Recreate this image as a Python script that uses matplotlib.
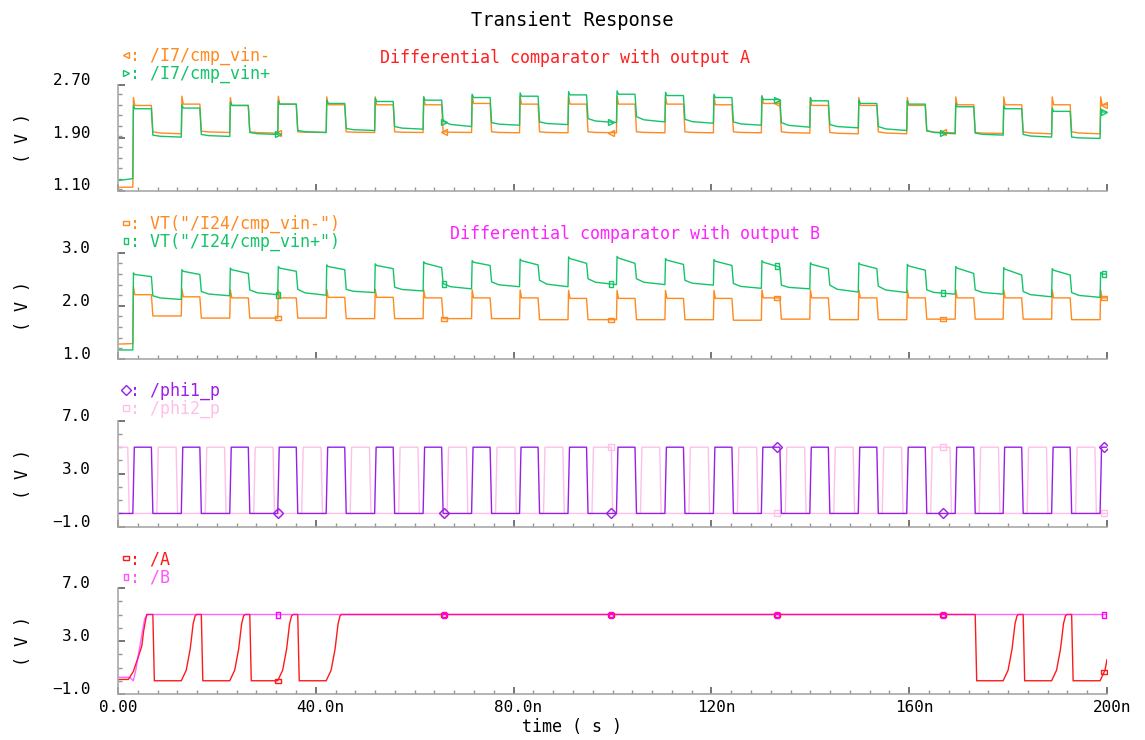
import numpy as np
import matplotlib
matplotlib.use('Agg')
import matplotlib.pyplot as plt
from matplotlib.lines import Line2D
from matplotlib.ticker import MultipleLocator

plt.rcParams['font.family'] = ['DejaVu Sans Mono', 'DejaVu Sans']

# ---- data (time in ns, volts) ----
phi1_rise = [3.0, 12.8, 22.6, 32.3, 42.1, 51.9, 61.7, 71.5, 81.2, 91.0, 100.8,
             110.6, 120.4, 130.1, 139.9, 149.7, 159.5, 169.3, 179.0, 188.8, 198.6]
phi1_width = 3.75
phi2_delay = 4.85
phi2_width = 3.9
phi2_first_fall = 1.97
clk_high = 5.0
clk_low = 0.0

marker_t = [32.3, 65.9, 99.6, 133.2, 166.9, 199.4]

# panel 1 : /I7/cmp_vin-, /I7/cmp_vin+
p1_m_pre = (1.15, 1.15)
p1_p_pre = (1.25, 1.28)
p1_m_hi = [2.39, 2.41, 2.39, 2.41, 2.40, 2.40, 2.40, 2.42, 2.41, 2.41, 2.41,
           2.41, 2.40, 2.42, 2.39, 2.39, 2.39, 2.40, 2.40, 2.40, 2.40]
p1_p_hi = [2.34, 2.35, 2.39, 2.41, 2.42, 2.45, 2.47, 2.51, 2.53, 2.55, 2.56,
           2.54, 2.51, 2.48, 2.46, 2.42, 2.41, 2.37, 2.34, 2.30, 2.29]
p1_m_lo_start = [1.99, 2.00, 1.99, 1.99, 1.99, 1.99, 1.99, 1.99, 1.99, 1.99,
                 1.99, 1.99, 1.99, 1.99, 1.98, 1.99, 2.00, 1.98, 1.99, 1.99]
p1_m_lo_end = [1.96, 1.98, 1.97, 1.98, 1.98, 1.98, 1.98, 1.975, 1.975, 1.975,
               1.975, 1.975, 1.975, 1.97, 1.96, 1.96, 1.975, 1.965, 1.96, 1.96]
p1_p_lo_start = [1.94, 1.95, 1.98, 2.01, 2.04, 2.07, 2.15, 2.13, 2.14, 2.19,
                 2.22, 2.18, 2.14, 2.13, 2.10, 2.07, 2.01, 1.97, 1.95, 1.91]
p1_p_lo_end = [1.91, 1.92, 1.95, 1.98, 2.01, 2.03, 2.07, 2.09, 2.10, 2.13,
               2.14, 2.12, 2.09, 2.06, 2.05, 2.01, 1.96, 1.94, 1.91, 1.89]

# panel 2 : VT("/I24/cmp_vin-"), VT("/I24/cmp_vin+")
p2_m_pre = (1.28, 1.29)
p2_p_pre = (1.17, 1.17)
p2_m_hi = [2.21, 2.17, 2.15, 2.15, 2.16, 2.16, 2.15, 2.15, 2.15, 2.14, 2.14,
           2.14, 2.14, 2.15, 2.15, 2.15, 2.15, 2.15, 2.15, 2.15, 2.15]
p2_m_lo = [1.81, 1.77, 1.77, 1.77, 1.76, 1.76, 1.76, 1.76, 1.74, 1.74,
           1.74, 1.74, 1.73, 1.75, 1.74, 1.74, 1.75, 1.75, 1.75, 1.74]
p2_p_hi_start = [2.59, 2.65, 2.68, 2.71, 2.74, 2.76, 2.80, 2.82, 2.85, 2.89, 2.90,
                 2.86, 2.84, 2.82, 2.78, 2.78, 2.75, 2.71, 2.69, 2.67, 2.60]
p2_p_hi_end = [2.55, 2.59, 2.61, 2.65, 2.68, 2.70, 2.72, 2.76, 2.77, 2.80, 2.80,
               2.78, 2.76, 2.73, 2.70, 2.70, 2.67, 2.61, 2.58, 2.58, 2.58]
p2_p_lo_start = [2.19, 2.27, 2.30, 2.31, 2.31, 2.35, 2.42, 2.45, 2.48, 2.51,
                 2.51, 2.48, 2.42, 2.39, 2.39, 2.37, 2.30, 2.30, 2.27, 2.25]
p2_p_lo_end = [2.12, 2.19, 2.21, 2.20, 2.25, 2.28, 2.32, 2.36, 2.36, 2.40,
               2.40, 2.39, 2.33, 2.32, 2.26, 2.25, 2.22, 2.22, 2.17, 2.16]

# panel 4 : /A and /B
A_start_t = [0.0, 2.1, 3.1, 4.1, 4.8, 5.2, 5.8]
A_start_v = [0.1, 0.1, 0.7, 1.8, 2.6, 3.8, 5.0]
A_rise_dt = [0.0, 1.0, 1.8, 2.4, 2.8, 3.1]
A_rise_v = [0.0, 0.8, 2.4, 4.3, 4.9, 5.0]
A_low_cycles = [0, 1, 2, 3, 17, 18, 19]
B_t = [0.0, 2.4, 3.1, 3.6, 4.6, 5.4, 6.0, 200.0]
B_v = [0.26, 0.26, 0.0, 0.8, 3.0, 4.7, 5.0, 5.0]

ORANGE = '#ff8a1e'
GREEN = '#14c46a'
PURPLE = '#9a1ee6'
PINK = '#ffbfea'
RED = '#ff1a1a'
MAGENTA = '#ff00ff'


def clip(t, v):
    t = np.array(t)
    v = np.array(v)
    tt = np.append(t[t < 200], 200.0)
    return tt, np.interp(tt, t, v)


def pulse_train(pre, hi_start, hi_end, lo_start, lo_end, spike=0.0, edge=0.12):
    t = [0.0, phi1_rise[0]]
    v = [pre[0], pre[1]]
    for k, r in enumerate(phi1_rise):
        t += [r + edge, r + 0.4, r + phi1_width]
        v += [hi_start[k] + spike, hi_start[k], hi_end[k]]
        if k < len(lo_start):
            ls, le = lo_start[k], lo_end[k]
            t += [r + phi1_width + 0.3, r + phi1_width + 1.8, phi1_rise[k + 1]]
            v += [ls, ls - 0.6 * (ls - le), le]
    return clip(t, v)


def phi2_wave():
    t = [0.0, phi2_first_fall, phi2_first_fall + 0.3]
    v = [clk_high, clk_high, clk_low]
    for r in phi1_rise:
        s = r + phi2_delay
        t += [s, s + 0.3, s + phi2_width, s + phi2_width + 0.3]
        v += [clk_low, clk_high, clk_high, clk_low]
    return clip(t, v)


def a_wave():
    t = list(A_start_t)
    v = list(A_start_v)
    for k in A_low_cycles:
        r = phi1_rise[k]
        t += [r + phi1_width + 0.3, r + phi1_width + 0.6]
        v += [5.0, 0.0]
        if k + 1 < len(phi1_rise):
            r2 = phi1_rise[k + 1]
            t += [r2 + d for d in A_rise_dt]
            v += list(A_rise_v)
    t.append(205.0)
    v.append(5.0 if t[-2] < 199 else v[-1])
    return clip(t, v)


n_lo = len(phi1_rise) - 1
ones = [clk_high] * len(phi1_rise)
zeros = [clk_low] * n_lo

w1m = pulse_train(p1_m_pre, p1_m_hi, p1_m_hi, p1_m_lo_start, p1_m_lo_end, spike=0.12)
w1p = pulse_train(p1_p_pre, p1_p_hi, p1_p_hi, p1_p_lo_start, p1_p_lo_end, spike=0.05)
w2m = pulse_train(p2_m_pre, p2_m_hi, p2_m_hi, p2_m_lo, p2_m_lo, spike=0.15)
w2p = pulse_train(p2_p_pre, p2_p_hi_start, p2_p_hi_end, p2_p_lo_start, p2_p_lo_end, spike=0.03)
wphi1 = pulse_train((clk_low, clk_low), ones, ones, zeros, zeros, edge=0.3)
wphi2 = phi2_wave()
wA = a_wave()
wB = clip(B_t, B_v)

hrect = [(-1, -0.45), (1, -0.45), (1, 0.45), (-1, 0.45), (-1, -0.45)]
vrect = [(-0.45, -1), (0.45, -1), (0.45, 1), (-0.45, 1), (-0.45, -1)]

W, H = 1145, 740
fig = plt.figure(figsize=(W / 100, H / 100), dpi=100)

panels = [
    # top px, bottom px, ylim, major, minor, labels
    (85.0, 190.5, (1.10, 2.70), [1.10, 1.90, 2.70], 0.16, ['1.10', '1.90', '2.70']),
    (252.7, 359.0, (1.0, 3.0), [1.0, 2.0, 3.0], 0.2, ['1.0', '2.0', '3.0']),
    (420.7, 526.7, (-1.0, 7.0), [-1.0, 3.0, 7.0], 1.0, ['\u22121.0', '3.0', '7.0']),
    (588.0, 694.0, (-1.0, 7.0), [-1.0, 3.0, 7.0], 1.0, ['\u22121.0', '3.0', '7.0']),
]

axes = []
for top, bot, ylim, major, minor, labels in panels:
    ax = fig.add_axes([118 / W, 1 - bot / H, 989 / W, (bot - top) / H])
    ax.set_xlim(0, 200)
    ax.set_ylim(*ylim)
    ax.spines['top'].set_visible(False)
    ax.spines['right'].set_visible(False)
    for s in ('left', 'bottom'):
        ax.spines[s].set_color('#a8a8a8')
        ax.spines[s].set_linewidth(1.2)
    ax.set_xticks([0, 40, 80, 120, 160, 200])
    ax.xaxis.set_minor_locator(MultipleLocator(4))
    ax.set_yticks(major)
    ax.yaxis.set_minor_locator(MultipleLocator(minor))
    ax.tick_params(which='major', direction='in', length=4.8, width=1.1, color='#505050',
                   labelbottom=False, labelleft=False)
    ax.tick_params(which='minor', direction='in', length=2.9, width=1.0, color='#959595')
    for val, lab in zip(major, labels):
        ax.annotate(lab, xy=(0, val), xycoords=('axes fraction', 'data'),
                    xytext=(-19.5, 0), textcoords='offset points',
                    ha='right', va='baseline', fontsize=11.5)
    fig.text(23 / W, 1 - (top + bot) / 2 / H, '( V )', rotation=90,
             ha='center', va='center', fontsize=12)
    axes.append(ax)

ax1, ax2, ax3, ax4 = axes


def draw(ax, w, color, marker, alpha=1.0):
    ax.plot(w[0], w[1], color=color, lw=1.0, alpha=alpha)
    ax.plot(marker_t, np.interp(marker_t, w[0], w[1]), ls='none', marker=marker,
            ms=5, mfc='none', mec=color, mew=1.0)


draw(ax1, w1m, ORANGE, '<')
draw(ax1, w1p, GREEN, '>')
draw(ax2, w2m, ORANGE, hrect)
draw(ax2, w2p, GREEN, vrect)
draw(ax3, wphi2, PINK, 's')
draw(ax3, wphi1, PURPLE, 'D')
draw(ax4, wA, RED, hrect)
draw(ax4, wB, MAGENTA, vrect, alpha=0.6)

# x tick labels on the bottom panel (number centred on the tick)
xlabels = ['0.00', '40.0n', '80.0n', '120n', '160n', '200n']
for x, lab in zip([0, 40, 80, 120, 160, 200], xlabels):
    dx = 3.5 if lab.endswith('n') else 0.0
    ax4.annotate(lab, xy=(x, 0), xycoords=('data', 'axes fraction'),
                 xytext=(dx, -4.5), textcoords='offset points',
                 ha='center', va='top', fontsize=11.5)


def legend_entry(y, marker, color, text):
    fig.add_artist(Line2D([126 / W], [1 - y / H], marker=marker, ms=5, mfc='none',
                          mec=color, mew=1.0, ls='none', transform=fig.transFigure))
    fig.text(130 / W, 1 - (y + 6) / H, ': ' + text, color=color,
             ha='left', va='baseline', fontsize=12)


legend_entry(55, '<', ORANGE, '/I7/cmp_vin-')
legend_entry(73, '>', GREEN, '/I7/cmp_vin+')
legend_entry(223, hrect, ORANGE, 'VT("/I24/cmp_vin-")')
legend_entry(241, vrect, GREEN, 'VT("/I24/cmp_vin+")')
legend_entry(390, 'D', PURPLE, '/phi1_p')
legend_entry(408, 's', PINK, '/phi2_p')
legend_entry(558, hrect, RED, '/A')
legend_entry(577, vrect, '#ff55ff', '/B')

fig.text(572 / W, 1 - 26 / H, 'Transient Response', ha='center', va='baseline', fontsize=13.5)
fig.text(380 / W, 1 - 63 / H, 'Differential comparator with output A', color='#ff2020',
         ha='left', va='baseline', fontsize=12)
fig.text(450 / W, 1 - 239 / H, 'Differential comparator with output B', color='#ff22ff',
         ha='left', va='baseline', fontsize=12)
fig.text(572 / W, 1 - 727 / H, 'time ( s )', ha='center', va='center', fontsize=12)

fig.savefig('out.png', dpi=100)
